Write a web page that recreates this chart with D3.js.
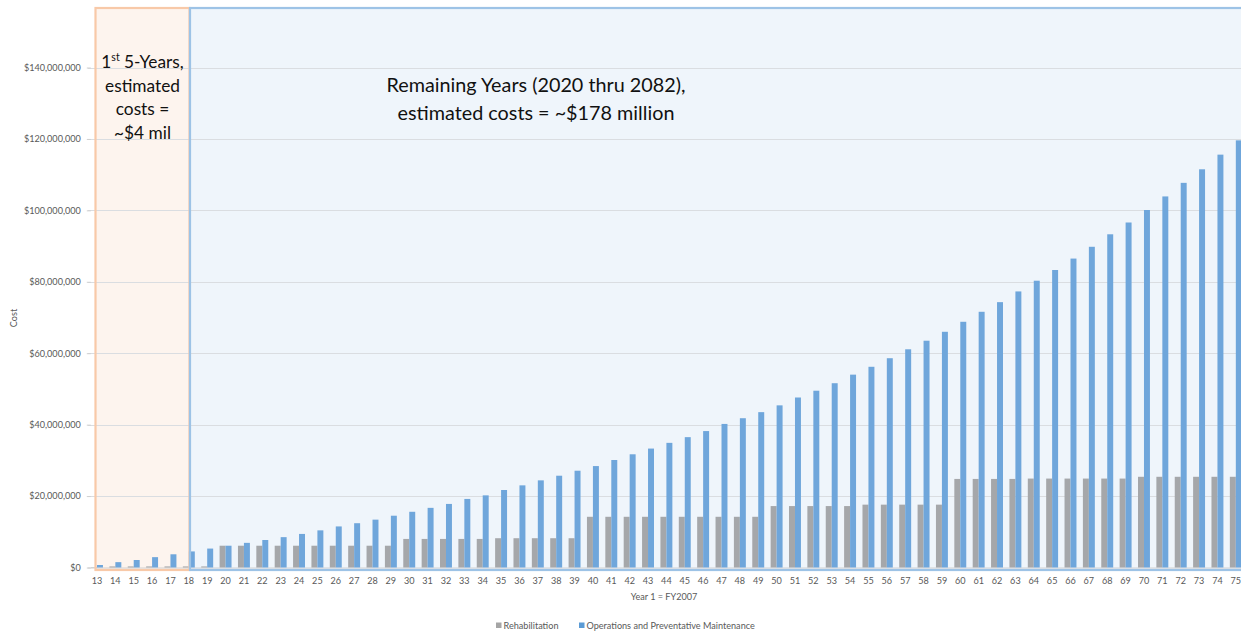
<!DOCTYPE html>
<html>
<head>
<meta charset="utf-8">
<script src="https://cdn.jsdelivr.net/npm/d3@7"></script>
<style>
  html, body { margin: 0; padding: 0; background: #ffffff; }
  svg { display: block; font-family: Lato, "Open Sans", sans-serif; }
</style>
</head>
<body>
<svg id="chart" width="1241" height="633"></svg>
<script>
// ---- data ----
const years = d3.range(13, 76).map(String);
const rehabilitation = [
  0.1, 0.3, 0.3, 0.3, 0.3, 0.3, 0.3,
  6.1, 6.1, 6.1, 6.1, 6.1, 6.1, 6.1, 6.1, 6.1, 6.1,
  8.0, 8.0, 8.0, 8.0, 8.0, 8.2, 8.2, 8.2, 8.2, 8.2,
  14.2, 14.2, 14.2, 14.2, 14.2, 14.2, 14.2, 14.2, 14.2, 14.2,
  17.2, 17.2, 17.2, 17.2, 17.2, 17.6, 17.6, 17.6, 17.6, 17.6,
  24.8, 24.8, 24.8, 24.8, 24.9, 24.9, 24.9, 24.9, 24.9, 24.9,
  25.4, 25.4, 25.4, 25.4, 25.4, 25.4
].map(v => v * 1e6);
const operations = [
  0.7, 1.5, 2.1, 2.9, 3.7, 4.5, 5.3,
  6.1, 6.9, 7.7, 8.5, 9.4, 10.4, 11.5, 12.4, 13.4, 14.5,
  15.6, 16.7, 17.8, 19.2, 20.2, 21.7, 23.0, 24.4, 25.7, 27.1,
  28.4, 30.1, 31.7, 33.3, 34.9, 36.5, 38.2, 40.2, 41.8, 43.5,
  45.4, 47.6, 49.5, 51.6, 54.0, 56.2, 58.6, 61.1, 63.5, 66.0,
  68.8, 71.6, 74.3, 77.3, 80.3, 83.3, 86.5, 89.8, 93.3, 96.6,
  100.1, 103.9, 107.7, 111.5, 115.6, 119.6
].map(v => v * 1e6);
const yTicks = [0, 20e6, 40e6, 60e6, 80e6, 100e6, 120e6, 140e6];
const seriesNames = ["Rehabilitation", "Operations and Preventative Maintenance"];
const seriesColors = ["#a5a7aa", "#6fa6db"];
const firstLines = ["5-Years,", "estimated", "costs =", "~$4 mil"];
const remainLines = ["Remaining Years (2020 thru 2082),", "estimated costs = ~$178 million"];

// ---- layout ----
const svg = d3.select("#chart");
const plotLeft = 87.8, plotRight = 1245, yZero = 567.5, yTop = 67.5;
const smallFont = "9.1px";

const x = d3.scaleBand().domain(years).range([plotLeft, plotRight])
  .paddingInner(0.35).paddingOuter(0.175);
const y = d3.scaleLinear().domain([0, 140e6]).range([yZero, yTop]);
const bw = x.bandwidth() / 2;

// box fills (behind)
svg.append("rect").attr("x", 95.5).attr("y", 8).attr("width", 94).attr("height", 562)
  .attr("fill", "#fdf4ee");
svg.append("rect").attr("x", 190).attr("y", 8).attr("width", 1070).attr("height", 562)
  .attr("fill", "#eff5fb");

// gridlines
svg.append("g").selectAll("line").data(yTicks.slice(1)).join("line")
  .attr("x1", plotLeft).attr("x2", 1241)
  .attr("y1", d => Math.round(y(d)) + 0.5).attr("y2", d => Math.round(y(d)) + 0.5)
  .attr("stroke", "#dadde1").attr("stroke-width", 1);

// y axis labels
const yAxis = d3.axisLeft(y).tickValues(yTicks)
  .tickFormat(d => "$" + d3.format(",")(d)).tickSize(4).tickPadding(6);
const gy = svg.append("g").attr("transform", `translate(${plotLeft + 3},0)`).call(yAxis);
gy.select(".domain").remove();
gy.selectAll(".tick line").attr("stroke", "#d0d0d0");
gy.selectAll(".tick text").attr("fill", "#595959").attr("font-size", smallFont)
  .attr("font-family", "Lato, sans-serif");

// x axis baseline
svg.append("line").attr("x1", plotLeft).attr("x2", 1241)
  .attr("y1", yZero + 0.5).attr("y2", yZero + 0.5).attr("stroke", "#d0d0d0");

// bars
svg.append("g").selectAll("rect").data(years).join("rect")
  .attr("x", d => x(d)).attr("width", bw)
  .attr("y", (d, i) => y(rehabilitation[i]))
  .attr("height", (d, i) => yZero - y(rehabilitation[i]))
  .attr("fill", seriesColors[0]);
svg.append("g").selectAll("rect").data(years).join("rect")
  .attr("x", d => x(d) + bw).attr("width", bw)
  .attr("y", (d, i) => y(operations[i]))
  .attr("height", (d, i) => yZero - y(operations[i]))
  .attr("fill", seriesColors[1]);

// x axis labels
const xAxis = d3.axisBottom(x).tickSize(0).tickPadding(9);
const gx = svg.append("g").attr("transform", `translate(0,${yZero + 1.5})`).call(xAxis);
gx.select(".domain").remove();
gx.selectAll(".tick text").attr("fill", "#595959").attr("font-size", smallFont)
  .attr("font-family", "Lato, sans-serif");

// box borders (on top)
svg.append("rect").attr("x", 95.5).attr("y", 8).attr("width", 94).attr("height", 562)
  .attr("fill", "none").attr("stroke", "#f8c9a8").attr("stroke-width", 2.2);
svg.append("rect").attr("x", 190).attr("y", 8).attr("width", 1070).attr("height", 562)
  .attr("fill", "none").attr("stroke", "#9dc3e6").attr("stroke-width", 2.2);

// axis titles
svg.append("text").attr("transform", "translate(17,318) rotate(-90)")
  .attr("text-anchor", "middle").attr("font-size", smallFont).attr("fill", "#595959")
  .text("Cost");
svg.append("text").attr("x", 664).attr("y", 600).attr("text-anchor", "middle")
  .attr("font-size", smallFont).attr("fill", "#595959").text("Year 1 = FY2007");

// legend
const legX = [496, 579];
seriesNames.forEach((n, i) => {
  svg.append("rect").attr("x", legX[i]).attr("y", 622.5).attr("width", 5.5).attr("height", 5.5)
    .attr("fill", i === 0 ? "#a5a5a5" : "#5b9bd5");
  svg.append("text").attr("x", legX[i] + 7.5).attr("y", 628.8).attr("font-size", smallFont)
    .attr("fill", "#595959").text(n);
});

// annotation in first box
const t1 = svg.append("text").attr("text-anchor", "middle").attr("font-size", "17.3px")
  .attr("fill", "#111");
firstLines.forEach((line, i) => {
  const ts = t1.append("tspan").attr("x", 142.5).attr("y", 68 + i * 23.6);
  if (i === 0) {
    ts.append("tspan").text("1");
    ts.append("tspan").attr("font-size", "10.5px").attr("dy", "-7").text("st");
    ts.append("tspan").attr("dy", "7").text(" " + line);
  } else {
    ts.text(line);
  }
});

// annotation in second box
const t2 = svg.append("text").attr("text-anchor", "middle").attr("font-size", "19.8px")
  .attr("fill", "#111");
remainLines.forEach((line, i) => {
  t2.append("tspan").attr("x", 536).attr("y", 91.5 + i * 28).text(line);
});
</script>
</body>
</html>
